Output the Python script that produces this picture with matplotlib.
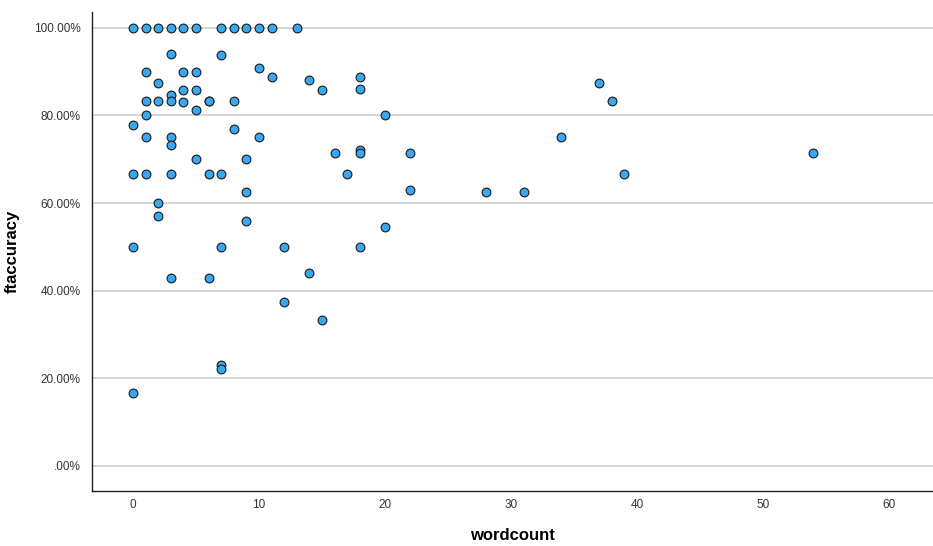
import matplotlib
matplotlib.use('Agg')
import matplotlib.pyplot as plt
from matplotlib.ticker import FuncFormatter

plt.rcParams['font.family'] = ['Liberation Sans', 'DejaVu Sans']

# wordcount vs ftaccuracy (percent)
wordcount = [
    0, 0, 0, 0, 0,
    1, 1, 1, 1, 1, 1,
    2, 2, 2, 2, 2,
    3, 3, 3, 3, 3, 3, 3, 3,
    4, 4, 4, 4,
    5, 5, 5, 5, 5,
    6, 6, 6, 6,
    7, 7, 7, 7, 7, 7,
    8, 8, 8,
    9, 9, 9, 9,
    10, 10, 10,
    11, 11,
    12, 12,
    13,
    14, 14,
    15, 15,
    16, 17,
    18, 18, 18, 18, 18,
    20, 20,
    22, 22,
    28, 31, 34, 37, 38, 39, 54,
]
ftaccuracy = [
    100, 77.78, 66.67, 50, 16.67,
    100, 90, 83.33, 80, 75, 66.67,
    100, 87.5, 83.33, 60, 57.14,
    100, 94.12, 84.62, 83.33, 75, 73.33, 66.67, 42.86,
    100, 90, 85.71, 83.0,
    100, 90, 85.71, 81.25, 70,
    83.33, 83.33, 66.67, 42.86,
    100, 93.75, 66.67, 50, 23.08, 22.22,
    100, 83.33, 76.92,
    100, 70, 62.5, 56,
    100, 90.91, 75,
    100, 88.89,
    50, 37.5,
    100,
    88, 44,
    85.71, 33.33,
    71.43, 66.67,
    88.89, 86, 72.22, 71.43, 50,
    80, 54.55,
    71.43, 63,
    62.5, 62.5, 75, 87.5, 83.33, 66.67, 71.43,
]
x_ticks = [0, 10, 20, 30, 40, 50, 60]
y_ticks = [0, 20, 40, 60, 80, 100]

fig = plt.figure(figsize=(9.33, 5.46), dpi=100)
ax = fig.add_axes([0.0986, 0.1013, 0.9014, 0.877])

ax.scatter(wordcount, ftaccuracy, s=40, color='#38A8F2',
           edgecolors='#1a1a1a', linewidths=0.8, zorder=3)

ax.set_xlim(-3.25, 63.5)
ax.set_ylim(-5.64, 103.65)
ax.set_xticks(x_ticks)
ax.set_yticks(y_ticks)

def pct(v, pos):
    return '.00%' if v == 0 else f'{v:.2f}%'
ax.yaxis.set_major_formatter(FuncFormatter(pct))

ax.grid(axis='y', color='#cfcfcf', linewidth=1.2, zorder=0)
ax.tick_params(length=0, labelsize=8.5, labelcolor='#333333')
ax.tick_params(axis='x', pad=6)
ax.tick_params(axis='y', pad=8)
for side in ['top', 'right']:
    ax.spines[side].set_visible(False)
for side in ['left', 'bottom']:
    ax.spines[side].set_color('#222222')
    ax.spines[side].set_linewidth(1.0)

ax.set_xlabel('wordcount', fontsize=12, fontweight='bold', labelpad=12)
ax.set_ylabel('ftaccuracy', fontsize=12, fontweight='bold', labelpad=10)

fig.savefig('out.png', dpi=100)
